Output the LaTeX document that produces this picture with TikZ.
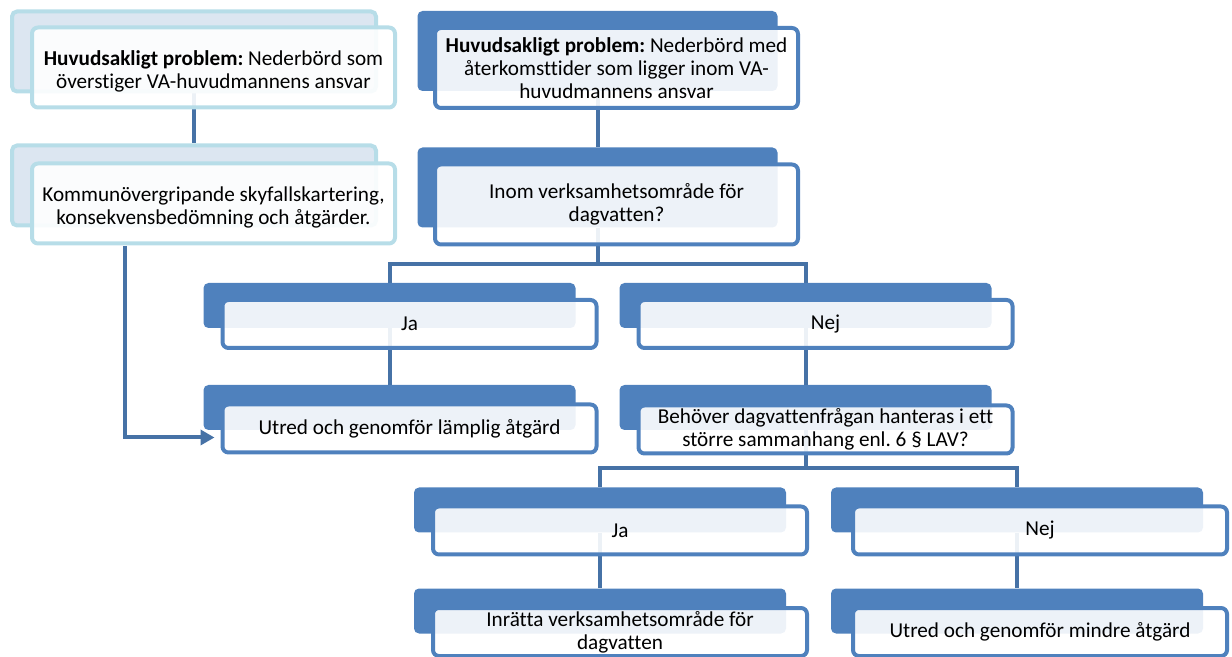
\documentclass[tikz,border=0pt]{standalone}
\usepackage{fontspec}
\setmainfont{Carlito}[Ligatures=NoCommon]
\usetikzlibrary{arrows.meta}
\usetikzlibrary{positioning,backgrounds}
\frenchspacing
\definecolor{accent}{RGB}{79,129,189}
\definecolor{linkblue}{RGB}{70,114,166}
\definecolor{paleback}{RGB}{220,230,241}
\definecolor{paleline}{RGB}{183,221,232}
\tikzstyle{back} = [rectangle, fill=accent, rounded corners=2.5pt, inner sep=0pt]
\tikzstyle{paleback} = [back, fill=paleback, draw=paleline, line width=2pt]
\tikzstyle{front} = [rectangle, draw=accent, line width=2pt, fill=white,
    fill opacity=0.9, text opacity=1, rounded corners=3pt, align=center,
    inner sep=0pt, font=\fontsize{10.6pt}{11.4pt}\selectfont]
\tikzstyle{palefront} = [front, draw=paleline]
\tikzstyle{wide} = [minimum width=181.5pt, minimum height=40pt]
\tikzstyle{wideback} = [minimum width=180pt, minimum height=40pt]
\tikzstyle{slim} = [minimum width=187pt, minimum height=24pt]
\tikzstyle{slimback} = [minimum width=186pt, minimum height=22.5pt]
\tikzstyle{link} = [linkblue, line width=2pt]
\tikzstyle{arrow} = [link, -{Triangle[length=7pt,width=7.5pt]}]
\newcommand{\lowtext}[1]{\raisebox{-2.5pt}[\height][\depth]{\begin{tabular}{@{}c@{}}#1\end{tabular}}}

\begin{document}
\begin{tikzpicture}[x=0.5pt, y=-0.5pt]
    \useasboundingbox (0,0) rectangle (1232,657);
    % Place nodes
    \node [paleback, minimum width=182pt, minimum height=40pt] (skyfb) at (194,51.5) {};
    \node [palefront, wide] (skyf) at ([shift={(19.5,16)}]skyfb)
        {\lowtext{\textbf{Huvudsakligt problem:} Nederbörd som\\överstiger VA-huvudmannens ansvar}};
    \node [paleback, minimum width=182pt, minimum height=40pt] (kommb) at (194,185.5) {};
    \node [palefront, wide] (komm) at ([shift={(19.5,18)}]kommb)
        {\lowtext{Kommunövergripande skyfallskartering,\\konsekvensbedömning och åtgärder.}};

    \node [back, wideback] (probb) at (597.5,51) {};
    \node [front, wide] (prob) at ([shift={(19,17)}]probb)
        {\textbf{Huvudsakligt problem:} Nederbörd med\\återkomsttider som ligger inom VA-\\huvudmannens ansvar};
    \node [back, wideback] (inomb) at (597.5,187.5) {};
    \node [front, wide] (inom) at ([shift={(19,17)}]inomb) {Inom verksamhetsområde för\\dagvatten?};

    \node [back, slimback] (jab) at (389.5,305.5) {};
    \node [front, slim] (ja) at ([shift={(20,18.5)}]jab) {Ja};
    \node [back, slimback] (nejb) at (805.5,305.5) {};
    \node [front, slim] (nej) at ([shift={(20,18.5)}]nejb) {Nej};

    \node [back, slimback] (utredb) at (389.5,407.5) {};
    \node [front, slim] (utred) at ([shift={(20,21)}]utredb) {Utred och genomför lämplig åtgärd};
    \node [back, slimback] (behovb) at (805.5,407.5) {};
    \node [front, slim] (behov) at ([shift={(20,22)}]behovb)
        {Behöver dagvattenfrågan hanteras i ett\\större sammanhang enl. 6 § LAV?};

    \node [back, slimback] (ja2b) at (600,510) {};
    \node [front, slim] (ja2) at ([shift={(20,20.5)}]ja2b) {Ja};
    \node [back, slimback] (nej2b) at (1017,510) {};
    \node [front, slim] (nej2) at ([shift={(23,20.5)}]nej2b) {Nej};

    \node [back, slimback] (inrb) at (600,611) {};
    \node [front, slim] (inr) at ([shift={(20,21)}]inrb) {Inrätta verksamhetsområde för\\dagvatten};
    \node [back, slimback] (mindreb) at (1017,611) {};
    \node [front, slim] (mindre) at ([shift={(23,21)}]mindreb) {Utred och genomför mindre åtgärd};

    \coordinate (split1) at (597.5,264);
    \coordinate (split2) at (805.5,468);
    \coordinate (kstart) at (125,246);

    % Draw edges
    \begin{pgfonlayer}{background}
    \draw [link] (skyfb) -- (kommb);
    \draw [link] (probb) -- (inomb);
    \draw [link] (inomb.south) -- (split1) -| (jab.north);
    \draw [link] (split1) -| (nejb.north);
    \draw [link] (jab) -- (utredb);
    \draw [link] (nejb) -- (behovb);
    \draw [link] (behovb.south) -- (split2) -| (ja2b.north);
    \draw [link] (split2) -| (nej2b.north);
    \draw [link] (ja2b) -- (inrb);
    \draw [link] (nej2b) -- (mindreb);
    \draw [arrow, shorten >=3pt] (kstart) |- ([yshift=-4.5pt]utred.west);
    \end{pgfonlayer}
\end{tikzpicture}
\end{document}
